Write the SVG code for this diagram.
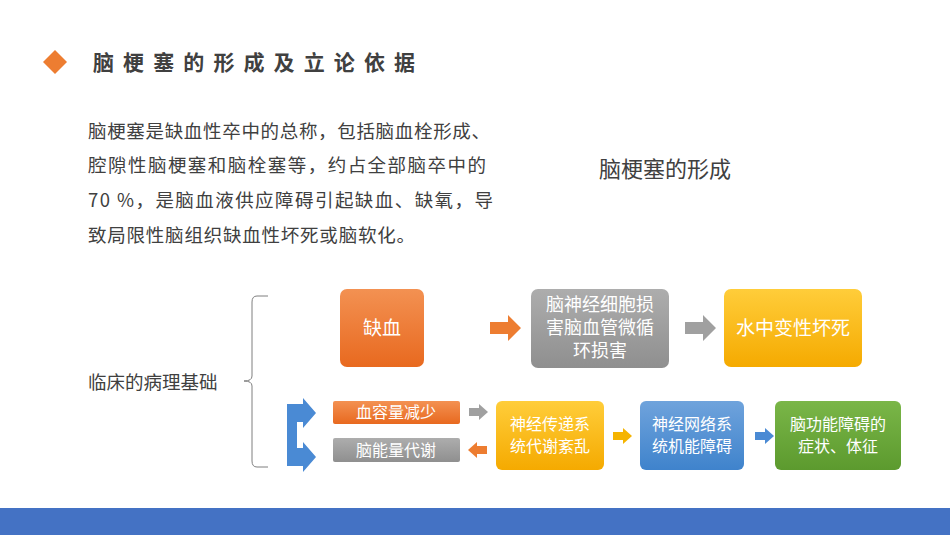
<svg xmlns="http://www.w3.org/2000/svg" width="950" height="535" viewBox="0 0 950 535">
<style>
text{font-family:"Noto Sans CJK SC","Liberation Sans",sans-serif}
.w{fill:#fff;text-anchor:middle}
.b{font-size:19px}
.m{font-size:18px}
.s{font-size:16px}
.p{font-size:18.5px;fill:#404040}
</style>
<defs>
<linearGradient id="go" x1="0" y1="0" x2="0" y2="1"><stop offset="0" stop-color="#f39152"/><stop offset="1" stop-color="#e8691f"/></linearGradient>
<linearGradient id="gg" x1="0" y1="0" x2="0" y2="1"><stop offset="0" stop-color="#adadad"/><stop offset="1" stop-color="#8f8f8f"/></linearGradient>
<linearGradient id="gy" x1="0" y1="0" x2="0" y2="1"><stop offset="0" stop-color="#ffcd3a"/><stop offset="1" stop-color="#f5aa00"/></linearGradient>
<linearGradient id="gb" x1="0" y1="0" x2="0" y2="1"><stop offset="0" stop-color="#6fa3dc"/><stop offset="1" stop-color="#3f83cc"/></linearGradient>
<linearGradient id="gn" x1="0" y1="0" x2="0" y2="1"><stop offset="0" stop-color="#7ab648"/><stop offset="1" stop-color="#5c9a2e"/></linearGradient>
</defs>
<rect width="950" height="535" fill="#fff"/>
<rect x="0" y="508" width="950" height="27" fill="#4472c4"/>
<polygon points="55,50 67,62 55,74 43,62" fill="#ed7d31"/>
<text x="93" y="70" font-size="21" font-weight="bold" fill="#404040" textLength="322" lengthAdjust="spacing">脑梗塞的形成及立论依据</text>
<text class="p" x="88" y="138" textLength="402" lengthAdjust="spacing">脑梗塞是缺血性卒中的总称，包括脑血栓形成、</text>
<text class="p" x="88" y="172" textLength="398" lengthAdjust="spacing">腔隙性脑梗塞和脑栓塞等，约占全部脑卒中的</text>
<text class="p" x="88" y="207" textLength="405" lengthAdjust="spacing">70 %，是脑血液供应障碍引起缺血、缺氧，导</text>
<text class="p" x="88" y="242" textLength="327" lengthAdjust="spacing">致局限性脑组织缺血性坏死或脑软化。</text>
<text x="665" y="177" font-size="22" fill="#404040" text-anchor="middle">脑梗塞的形成</text>
<text class="p" x="88" y="389">临床的病理基础</text>
<g id="connectors">
<path d="M268,296 H257 Q252,296 252,302 V376 Q252,381 244,381 Q252,381 252,386 V461 Q252,467 257,467 H268" fill="none" stroke="#7f7f7f" stroke-width="1"/>
<polygon points="490,322 508,322 508,315 521,328 508,341 508,334 490,334" fill="#ed7d31"/>
<polygon points="685,322 703,322 703,315 716,328 703,341 703,334 685,334" fill="#a0a0a0"/>
<polygon points="287,404 303,404 303,398 316,413 303,428 303,422 297,422 297,448 303,448 303,442 316,457 303,472 303,466 287,466" fill="#4a8ad4"/>
<polygon points="469,408 479,408 479,404 488,412 479,420 479,416 469,416" fill="#a0a0a0"/>
<polygon points="487,446 477,446 477,442 468,450 477,458 477,454 487,454" fill="#ed7d31"/>
<polygon points="613,432 623,432 623,428 632,436 623,444 623,440 613,440" fill="#f5b400"/>
<polygon points="755,432 765,432 765,428 774,436 765,444 765,440 755,440" fill="#4a8ad4"/>
</g>
<g id="n1"><rect x="340" y="289" width="84" height="78" rx="7" fill="url(#go)"/><text class="w b" x="382" y="335">缺血</text></g>
<g id="n2"><rect x="531" y="289" width="138" height="79" rx="7" fill="url(#gg)"/><text class="w m" x="600" y="311">脑神经细胞损</text><text class="w m" x="600" y="334">害脑血管微循</text><text class="w m" x="600" y="357">环损害</text></g>
<g id="n3"><rect x="724" y="289" width="138" height="78" rx="7" fill="url(#gy)"/><text class="w b" x="793" y="335">水中变性坏死</text></g>
<g id="n4"><rect x="333" y="401" width="127" height="23" rx="2" fill="url(#go)"/><text class="w s" x="396" y="418">血容量减少</text></g>
<g id="n5"><rect x="333" y="438" width="127" height="24" rx="2" fill="url(#gg)"/><text class="w s" x="396" y="456">脑能量代谢</text></g>
<g id="n6"><rect x="496" y="401" width="108" height="69" rx="6" fill="url(#gy)"/><text class="w s" x="550" y="430">神经传递系</text><text class="w s" x="550" y="452">统代谢紊乱</text></g>
<g id="n7"><rect x="640" y="401" width="104" height="69" rx="6" fill="url(#gb)"/><text class="w s" x="692" y="430">神经网络系</text><text class="w s" x="692" y="452">统机能障碍</text></g>
<g id="n8"><rect x="775" y="401" width="126" height="69" rx="6" fill="url(#gn)"/><text class="w s" x="838" y="430">脑功能障碍的</text><text class="w s" x="838" y="452">症状、体征</text></g>
</svg>
